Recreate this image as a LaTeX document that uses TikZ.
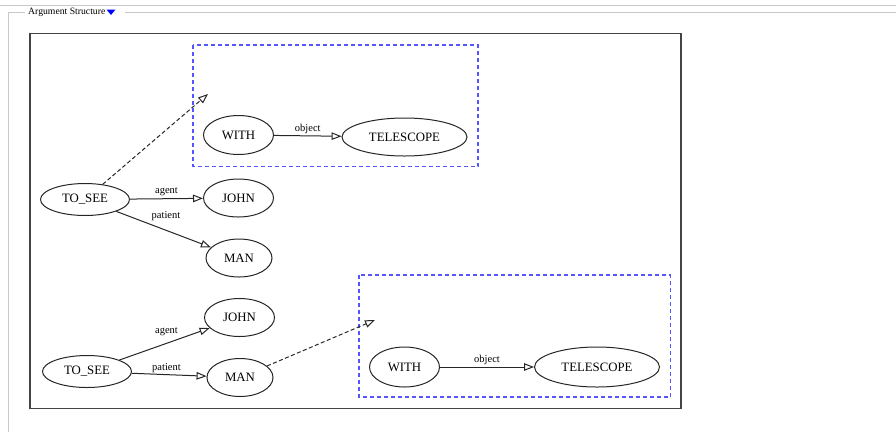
\documentclass[tikz,border=0pt]{standalone}
\usepackage{fontspec}
\setmainfont{Liberation Serif}
\usetikzlibrary{shapes.geometric,arrows.meta}
\definecolor{fsgray}{HTML}{C8C8C8}
\definecolor{boxgray}{HTML}{444444}
\definecolor{clblue}{HTML}{5555FF}
\tikzset{
  gnode/.style={ellipse, draw=black!85, line width=1pt, inner sep=0pt, font=\fontsize{12.8}{14}\selectfont},
  smallnode/.style={gnode, minimum width=70pt, minimum height=38pt},
  tosee/.style={gnode, minimum width=89pt, minimum height=32pt},
  tele/.style={gnode, minimum width=125pt, minimum height=38pt},
  rel/.style={draw=black!85, line width=1pt, -{Triangle[open, length=10pt, width=7.5pt, line width=1pt]}},
  dashrel/.style={rel, dash pattern=on 4pt off 2.5pt},
  lbl/.style={font=\fontsize{10.5}{12}\selectfont, inner sep=0pt},
  cluster/.style={draw=clblue, line width=1.1pt, dash pattern=on 4pt off 3pt},
  fsline/.style={draw=fsgray, line width=1pt}
}
\begin{document}
\begin{tikzpicture}[x=1pt,y=-1pt]
\useasboundingbox (0,0) rectangle (896,432);
% page / fieldset lines
\draw[fsline] (0,5) -- (896,5);
\draw[fsline] (125,12.5) -- (896,12.5);
\draw[fsline] (25,12.5) -- (8,12.5) -- (8,432);
\node[anchor=west, inner sep=0pt, font=\fontsize{9.7}{11}\selectfont] (legend) at (28,12) {Argument Structure};
\fill[blue] (106.5,9.5) -- (115.5,9.5) -- (111,15) -- cycle;
% outer box
\draw[boxgray, line width=1.4pt] (30,33.5) rectangle (681,408.5);
% clusters
\draw[cluster] (193,45) rectangle (478,166.5);
\draw[cluster] (359,275) rectangle (670.5,397);

% top graph
\node[tosee] (ts1) at (85,199.5) {TO\_SEE};
\node[smallnode] (j1) at (238.5,198) {JOHN};
\node[smallnode, minimum width=66pt] (m1) at (239,258) {MAN};
\node[smallnode, minimum height=39pt] (w1) at (238.5,135) {WITH};
\node[tele] (t1) at (404.5,137) {TELESCOPE};
\coordinate (p1) at (208,94);
\draw[rel] (ts1) -- node[lbl, above=2.5pt] {agent} (j1);
\draw[rel] (ts1) -- (m1);
\node[lbl] (pl1) at (166,216.5) {patient};
\draw[rel] (w1) -- node[lbl, above=2pt] {object} (t1);
\draw[dashrel] (ts1) -- (p1);

% bottom graph
\node[tosee] (ts2) at (87,371.5) {TO\_SEE};
\node[smallnode] (j2) at (239.5,317.5) {JOHN};
\node[smallnode, minimum width=66pt] (m2) at (240,377.5) {MAN};
\node[smallnode, minimum height=40pt] (w2) at (404.5,367) {WITH};
\node[tele, minimum height=40pt] (t2) at (597,367) {TELESCOPE};
\coordinate (p2) at (375,320);
\draw[rel] (ts2) -- (j2);
\node[lbl] (al2) at (166.5,331.5) {agent};
\draw[rel] (ts2) -- (m2);
\node[lbl] (pl2) at (166.5,368) {patient};
\draw[rel] (w2) -- node[lbl, above=2pt] {object} (t2);
\draw[dashrel] (m2) -- (p2);
\end{tikzpicture}
\end{document}
